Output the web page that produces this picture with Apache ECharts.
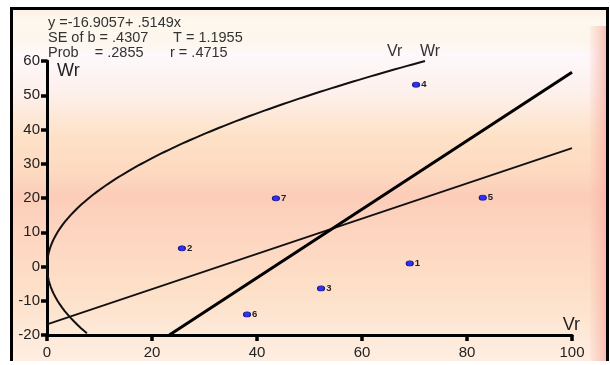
<!DOCTYPE html>
<html>
<head>
<meta charset="utf-8">
<script src="https://cdn.jsdelivr.net/npm/echarts@6/dist/echarts.min.js"></script>
<style>
  html, body { margin: 0; padding: 0; background: #ffffff; }
  #chart { width: 610px; height: 365px; }
</style>
</head>
<body>
<div id="chart"></div>
<script>
// Wr / Vr diallel graph: array points, regression line, unit-slope line, limiting parabola
const pointIds = ['1', '2', '3', '4', '5', '6', '7'];
const vrValues = [69.1, 25.7, 52.2, 70.3, 83.0, 38.1, 43.6];
const wrValues = [0.9, 5.3, -6.4, 53.1, 20.1, -14.0, 19.9];

const regIntercept = -16.9057;
const regSlope = 0.5149;
const statLines = [
  ['y =-16.9057+ .5149x', ''],
  ['SE of b = .4307', 'T = 1.1955'],
  ['Prob    = .2855', 'r = .4715']
];

const xTicks = [0, 20, 40, 60, 80, 100];
const yTicks = [-20, -10, 0, 10, 20, 30, 40, 50, 60];

// limiting parabola Wr^2 = Vr * V0L0
const v0l0 = 50;
const parabolaWrRange = [-19.5, 60];

const xMin = xTicks[0], xMax = xTicks[xTicks.length - 1];
const yMin = yTicks[0], yMax = yTicks[yTicks.length - 1];

// regression line across the x range
const regLine = [
  [xMin, regIntercept + regSlope * xMin],
  [xMax, regIntercept + regSlope * xMax]
];

// unit-slope line through the mean point
const meanVr = vrValues.reduce((a, b) => a + b, 0) / vrValues.length;
const meanWr = wrValues.reduce((a, b) => a + b, 0) / wrValues.length;
const unitIntercept = meanWr - meanVr;
const unitLine = [
  [yMin - unitIntercept, yMin],
  [xMax, xMax + unitIntercept]
];

// parabola points
const parabola = [];
for (let w = parabolaWrRange[0]; w <= parabolaWrRange[1] + 1e-9; w += 0.5) {
  parabola.push([w * w / v0l0, w]);
}

const scatterData = vrValues.map((v, i) => ({ value: [v, wrValues[i]], name: pointIds[i] }));

const FONT = '"Liberation Sans", Arial, sans-serif';
const chart = echarts.init(document.getElementById('chart'), null, { renderer: 'canvas' });

const statText = [];
statLines.forEach((row, i) => {
  statText.push({
    type: 'text', z: 50,
    style: { text: row[0], x: 48, y: 23 + i * 15, fill: '#333', font: '14.5px ' + FONT, verticalAlign: 'middle' }
  });
  if (row[1]) {
    statText.push({
      type: 'text', z: 50,
      style: { text: row[1], x: i === 1 ? 173 : 170, y: 23 + i * 15, fill: '#333', font: '14.5px ' + FONT, verticalAlign: 'middle' }
    });
  }
});

chart.setOption({
  animation: false,
  backgroundColor: '#ffffff',
  grid: { left: 47, top: 61, right: 38, bottom: 30, containLabel: false },
  xAxis: {
    type: 'value', min: xMin, max: xMax, interval: 20,
    axisLine: { show: true, onZero: false, lineStyle: { color: '#000', width: 3 } },
    axisTick: { show: true, length: 6, lineStyle: { color: '#000', width: 3.5 } },
    axisLabel: { fontSize: 15, color: '#222', fontFamily: FONT, margin: 10 },
    splitLine: { show: false }
  },
  yAxis: {
    type: 'value', min: yMin, max: yMax, interval: 10,
    axisLine: { show: true, onZero: false, lineStyle: { color: '#000', width: 3 } },
    axisTick: { show: true, length: 6, lineStyle: { color: '#000', width: 3.5 } },
    axisLabel: { fontSize: 15, color: '#222', fontFamily: FONT, margin: 7 },
    splitLine: { show: false }
  },
  graphic: [
    {
      type: 'rect', z: -100, silent: true,
      shape: { x: 11, y: 8, width: 597, height: 353 },
      style: {
        fill: new echarts.graphic.LinearGradient(0, 0, 0, 1, [
          { offset: 0.0, color: '#fdeee6' },
          { offset: 0.03, color: '#fdf7ec' },
          { offset: 0.10, color: '#fdf6ee' },
          { offset: 0.13, color: '#fef8fb' },
          { offset: 0.24, color: '#fdf0ec' },
          { offset: 0.36, color: '#fde2c8' },
          { offset: 0.47, color: '#fdd9c0' },
          { offset: 0.53, color: '#fccdb9' },
          { offset: 0.62, color: '#fdd4bf' },
          { offset: 0.80, color: '#fde0c8' },
          { offset: 1.0, color: '#feeee2' }
        ])
      }
    },
    {
      type: 'rect', z: -99, silent: true,
      shape: { x: 590, y: 26, width: 16.5, height: 335 },
      style: {
        fill: new echarts.graphic.LinearGradient(0, 0, 1, 0, [
          { offset: 0, color: 'rgba(250,190,175,0.15)' },
          { offset: 1, color: 'rgba(246,170,160,0.75)' }
        ])
      }
    },
    {
      type: 'polyline', z: 100, silent: true,
      shape: { points: [[11.5, 361], [11.5, 8.5], [607.5, 8.5], [607.5, 361]] },
      style: { stroke: '#000', lineWidth: 3, fill: null }
    },
    ...statText,
    {
      type: 'text', z: 50,
      style: { text: 'Wr', x: 57, y: 71, fill: '#222', font: '18px ' + FONT, verticalAlign: 'middle' }
    },
    {
      type: 'text', z: 50,
      style: { text: 'Vr', x: 580, y: 325, fill: '#222', font: '18px ' + FONT, verticalAlign: 'middle', align: 'right' }
    },
    {
      type: 'text', z: 50,
      style: { text: 'Vr', x: 387, y: 52, fill: '#333', font: '16px ' + FONT, verticalAlign: 'middle' }
    },
    {
      type: 'text', z: 50,
      style: { text: 'Wr', x: 420, y: 52, fill: '#333', font: '16px ' + FONT, verticalAlign: 'middle' }
    }
  ],
  series: [
    {
      type: 'line', data: parabola, showSymbol: false, smooth: false,
      lineStyle: { color: '#111', width: 2 }, z: 3, silent: true
    },
    {
      type: 'line', data: regLine, showSymbol: false,
      lineStyle: { color: '#111', width: 1.8 }, z: 3, silent: true
    },
    {
      type: 'line', data: unitLine, showSymbol: false,
      lineStyle: { color: '#000', width: 3 }, z: 3, silent: true
    },
    {
      type: 'scatter', data: scatterData, symbol: 'circle', symbolSize: [7, 5],
      itemStyle: { color: '#2f2fff', borderColor: '#14148a', borderWidth: 1, opacity: 1 },
      label: {
        show: true, position: 'right', distance: 1, formatter: p => p.name,
        fontSize: 9.5, fontWeight: 'bold', color: '#222', fontFamily: FONT
      },
      z: 5, silent: true
    }
  ]
});
</script>
</body>
</html>
